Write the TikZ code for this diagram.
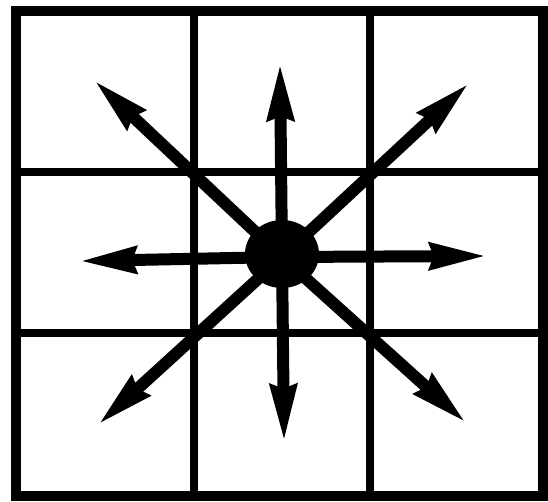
\documentclass[tikz,border=0pt]{standalone}
\usetikzlibrary{arrows.meta,shapes.geometric}
\begin{document}
\begin{tikzpicture}[x=1pt,y=-1pt,
  frame/.style={line width=10pt},
  gridline/.style={line width=8pt},
  ray/.style={line width=12pt,shorten >=-5pt,-{Stealth[length=57pt,width=25pt,inset=3pt]}},
  hub/.style={ellipse,fill=black,minimum width=74pt,minimum height=68pt,inner sep=0pt}]
\useasboundingbox (0,0) rectangle (548,501);
\fill[white] (0,0) rectangle (548,501);
% grid
\draw[gridline] (194,10) -- (194,497);
\draw[gridline] (370,10) -- (370,497);
\draw[gridline] (16,172) -- (544,172);
\draw[gridline] (16,333) -- (544,333);
\draw[frame] (16,11) rectangle (543,496);
% arrows
\coordinate (o) at (282,257);
\coordinate (tN) at (280,67);
\coordinate (tS) at (284,438);
\coordinate (tE) at (483,256);
\coordinate (tW) at (83,261);
\coordinate (tNE) at (466,86);
\coordinate (tNW) at (97,83);
\coordinate (tSE) at (463,420);
\coordinate (tSW) at (101,422);
\foreach \t in {tN,tS,tE,tW,tNE,tNW,tSE,tSW}{
  \draw[ray] (o) -- (\t);
}
\node[hub] (c) at (282,254) {};
\end{tikzpicture}
\end{document}
